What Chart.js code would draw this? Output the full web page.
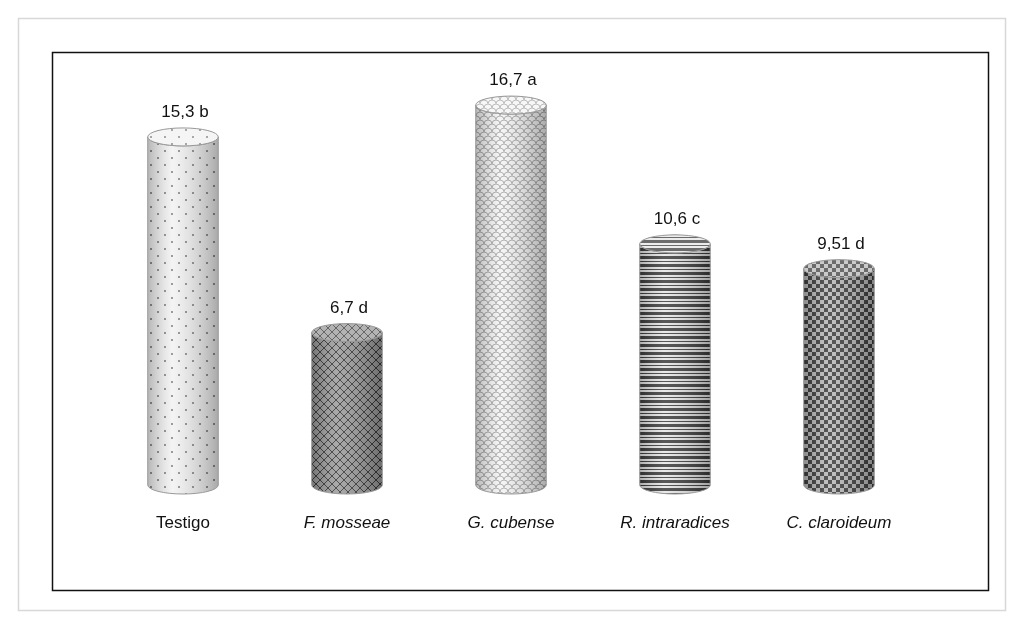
<!DOCTYPE html>
<html>
<head>
<meta charset="utf-8">
<script src="https://cdn.jsdelivr.net/npm/chart.js@4"></script>
<style>
  html, body { margin: 0; padding: 0; background: #fff; }
  #wrap { width: 1023px; height: 627px; position: relative; }
</style>
</head>
<body>
<div id="wrap"><canvas id="c" width="1023" height="627"></canvas></div>
<script>
const categories = ["Testigo", "F. mosseae", "G. cubense", "R. intraradices", "C. claroideum"];
const values = [15.3, 6.7, 16.7, 10.6, 9.51];
const valueLabels = ["15,3 b", "6,7 d", "16,7 a", "10,6 c", "9,51 d"];
const italic = [false, true, true, true, true];

function makePattern(kind) {
  const p = document.createElement("canvas");
  const s = kind === "dots" ? 14 : 8;
  p.width = s; p.height = s;
  const g = p.getContext("2d");
  if (kind === "dots") {
    g.fillStyle = "#f2f2f2"; g.fillRect(0, 0, s, s);
    g.fillStyle = "#8a8a8a";
    g.fillRect(3, 3, 2, 2); g.fillRect(10, 10, 2, 2);
  } else if (kind === "cross") {
    g.fillStyle = "#9a9a9a"; g.fillRect(0, 0, s, s);
    g.strokeStyle = "#333"; g.lineWidth = 1;
    g.beginPath(); g.moveTo(0, 0); g.lineTo(s, s); g.moveTo(s, 0); g.lineTo(0, s); g.stroke();
  } else if (kind === "scales") {
    g.fillStyle = "#f4f4f4"; g.fillRect(0, 0, s, s);
    g.strokeStyle = "#a8a8a8"; g.lineWidth = 1;
    g.beginPath(); g.arc(4, 8, 4, Math.PI, 0); g.stroke();
    g.beginPath(); g.arc(0, 4, 4, Math.PI, 0); g.arc(8, 4, 4, Math.PI, 0); g.stroke();
  } else if (kind === "stripes") {
    g.fillStyle = "#e6e6e6"; g.fillRect(0, 0, s, s);
    g.fillStyle = "#3a3a3a"; g.fillRect(0, 0, s, 3); g.fillRect(0, 5, s, 1);
  } else {
    g.fillStyle = "#3a3a3a"; g.fillRect(0, 0, s, s);
    g.fillStyle = "#b8b8b8"; g.fillRect(0, 0, 4, 4); g.fillRect(4, 4, 4, 4);
  }
  return g.createPattern(p, "repeat");
}
const kinds = ["dots", "cross", "scales", "stripes", "check"];

const cylinders = {
  id: "cylinders",
  afterDatasetsDraw(chart) {
    const ctx = chart.ctx;
    const meta = chart.getDatasetMeta(0);
    meta.data.forEach((bar, i) => {
      const w = bar.width, x = bar.x, top = bar.y, base = bar.base;
      const l = x - w / 2, r = x + w / 2, ry = 9;
      ctx.save();
      ctx.beginPath();
      ctx.moveTo(l, top);
      ctx.lineTo(l, base);
      ctx.ellipse(x, base, w / 2, ry, 0, Math.PI, 0, true);
      ctx.lineTo(r, top);
      ctx.ellipse(x, top, w / 2, ry, 0, 0, Math.PI, false);
      ctx.closePath();
      ctx.fillStyle = makePattern(kinds[i]);
      ctx.fill();
      const gr = ctx.createLinearGradient(l, 0, r, 0);
      gr.addColorStop(0, "rgba(0,0,0,0.25)");
      gr.addColorStop(0.35, "rgba(255,255,255,0.15)");
      gr.addColorStop(1, "rgba(0,0,0,0.3)");
      ctx.fillStyle = gr; ctx.fill();
      ctx.strokeStyle = "#999"; ctx.lineWidth = 1; ctx.stroke();
      ctx.beginPath();
      ctx.ellipse(x, top, w / 2, ry, 0, 0, Math.PI * 2);
      ctx.fillStyle = makePattern(kinds[i]); ctx.fill();
      ctx.fillStyle = "rgba(255,255,255,0.25)"; ctx.fill();
      ctx.stroke();
      ctx.fillStyle = "#111";
      ctx.font = "17px 'Liberation Sans', Arial, sans-serif";
      ctx.textAlign = "center";
      ctx.fillText(valueLabels[i], x + 2, top - 20);
      ctx.font = (italic[i] ? "italic " : "") + "17px 'Liberation Sans', Arial, sans-serif";
      ctx.fillText(categories[i], x, 528);
      ctx.restore();
    });
  },
  beforeDraw(chart) {
    const ctx = chart.ctx;
    ctx.save();
    ctx.fillStyle = "#fff"; ctx.fillRect(0, 0, 1023, 627);
    ctx.strokeStyle = "#d8d8d8"; ctx.lineWidth = 1.5;
    ctx.strokeRect(18.5, 18.5, 987, 592);
    ctx.strokeStyle = "#111"; ctx.lineWidth = 1.5;
    ctx.strokeRect(52.5, 52.5, 936, 538);
    ctx.restore();
  }
};

new Chart(document.getElementById("c"), {
  type: "bar",
  data: {
    labels: categories,
    datasets: [{ data: values, backgroundColor: "rgba(0,0,0,0)", barPercentage: 0.43, categoryPercentage: 1 }]
  },
  options: {
    responsive: false,
    animation: false,
    layout: { padding: { left: 101, right: 102, top: 30, bottom: 142 } },
    plugins: { legend: { display: false }, tooltip: { enabled: false } },
    scales: {
      x: { display: false },
      y: { display: false, min: 0, max: 20 }
    }
  },
  plugins: [cylinders]
});
</script>
</body>
</html>
